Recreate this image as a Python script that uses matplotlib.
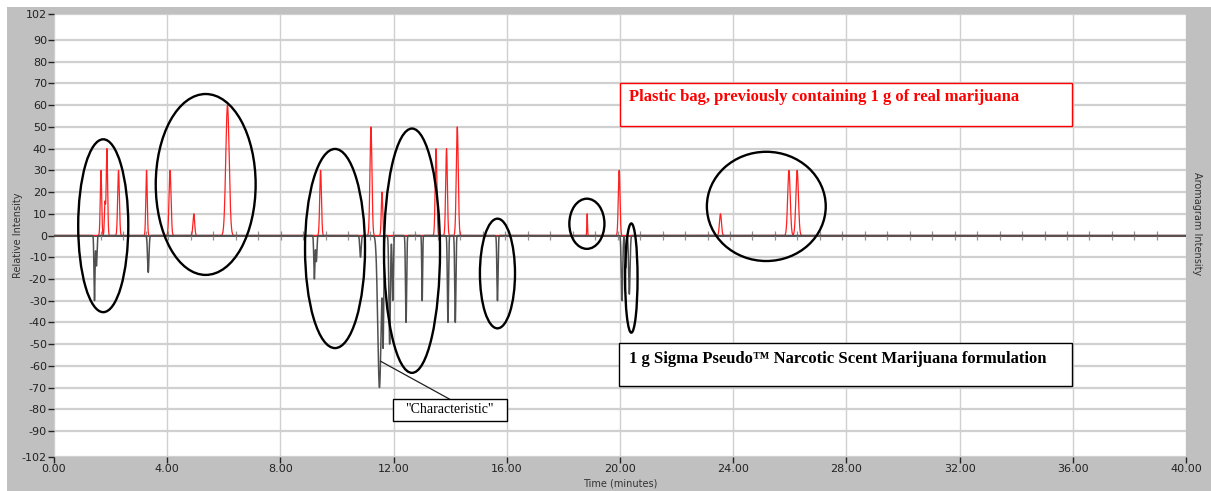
import numpy as np
import matplotlib.pyplot as plt
from matplotlib.patches import Ellipse, Rectangle

# Aromagram peaks: retention time (min), relative intensity, peak half-width (min)
bag_times = [1.66, 1.80, 1.87, 2.28, 3.27, 4.10, 4.94, 6.13, 9.42, 11.20, 11.59,
             13.50, 13.87, 14.25, 18.84, 19.97, 23.55, 25.97, 26.26]
bag_heights = [30, 15, 40, 30, 30, 30, 10, 60, 30, 50, 20,
               40, 40, 50, 10, 30, 10, 30, 30]
bag_widths = [0.025, 0.02, 0.025, 0.03, 0.025, 0.035, 0.03, 0.06, 0.03, 0.035, 0.025,
              0.03, 0.03, 0.035, 0.012, 0.03, 0.035, 0.045, 0.045]

pseudo_times = [1.43, 1.50, 3.33, 9.20, 9.27, 10.83, 11.50, 11.63, 11.86, 11.97,
                12.44, 13.01, 13.92, 14.18, 15.67, 20.07, 20.20, 20.33]
pseudo_heights = [-30, -14, -17, -20, -12, -10, -70, -45, -50, -30,
                  -40, -30, -40, -40, -30, -30, -15, -27]
pseudo_widths = [0.018, 0.02, 0.025, 0.02, 0.02, 0.025, 0.06, 0.02, 0.025, 0.02,
                 0.02, 0.015, 0.02, 0.02, 0.02, 0.025, 0.02, 0.025]

yticks = [-102, -90, -80, -70, -60, -50, -40, -30, -20, -10, 0,
          10, 20, 30, 40, 50, 60, 70, 80, 90, 102]
xticks = [0, 4, 8, 12, 16, 20, 24, 28, 32, 36, 40]

# circled regions: centre time, centre intensity, width (min), height
circles = [(1.74, 4.5, 1.77, 79.6), (5.36, 23.5, 3.53, 83.3), (9.93, -6.0, 2.12, 91.7),
           (12.65, -7.0, 1.98, 112.5), (15.67, -17.5, 1.24, 50.5), (18.83, 5.4, 1.24, 23.1),
           (20.40, -19.6, 0.44, 50.3), (25.17, 13.4, 4.2, 50.3)]


def trace(times, heights, widths, t):
    y = np.zeros_like(t)
    for c, h, w in zip(times, heights, widths):
        y += h * np.exp(-0.5 * ((t - c) / w) ** 2)
    return y


t = np.linspace(0, 40, 40001)
bag = trace(bag_times, bag_heights, bag_widths, t)
pseudo = trace(pseudo_times, pseudo_heights, pseudo_widths, t)

fig = plt.figure(figsize=(12.11, 4.91), dpi=100, facecolor='white')
fig.patches.append(Rectangle((7 / 1211, 0), 1, 1 - 7 / 491, transform=fig.transFigure,
                             facecolor='#c0c0c0', edgecolor='none', zorder=-10))
ax = fig.add_axes([54 / 1211, 34 / 491, 1132 / 1211, 443 / 491])
ax.set_facecolor('white')
ax.set_xlim(0, 40)
ax.set_ylim(-102, 102)

for yv in yticks:
    ax.axhline(yv, color='#d0d0d0', lw=1.6, zorder=1)
for xv in xticks:
    ax.axvline(xv, color='#d0d0d0', lw=1.0, zorder=1)

ax.axhline(0, color='#555555', lw=1.4, zorder=3)
marks = np.arange(0.86, 39.5, 0.794)
ax.vlines(marks, -2, 2, color='#909090', lw=0.9, zorder=3)

ax.plot(t, bag, color='#ff2020', lw=0.9, zorder=4)
ax.plot(t, pseudo, color='#505050', lw=1.1, zorder=4)

for cx, cy, w, h in circles:
    ax.add_patch(Ellipse((cx, cy), w, h, fill=False, edgecolor='black', lw=1.7, zorder=6))

# legend boxes
ax.add_patch(Rectangle((20.0, 50.5), 15.96, 19.7, facecolor='white', edgecolor='#ff0000',
                       lw=1.0, zorder=5))
ax.text(20.33, 63.6, 'Plastic bag, previously containing 1 g of real marijuana',
        color='#ff0000', fontsize=12, fontweight='bold', family='Liberation Serif',
        va='center', ha='left', zorder=6)
ax.add_patch(Rectangle((19.97, -69.1), 15.99, 19.6, facecolor='white', edgecolor='black',
                       lw=1.0, zorder=5))
ax.text(20.33, -56.8, '1 g Sigma Pseudo\u2122 Narcotic Scent Marijuana formulation',
        color='black', fontsize=12, fontweight='bold', family='Liberation Serif',
        va='center', ha='left', zorder=6)

ax.plot([11.54, 13.97], [-57.9, -75.3], color='#202020', lw=0.9, zorder=5)
ax.add_patch(Rectangle((11.97, -85.3), 4.03, 10.0, facecolor='white', edgecolor='black',
                       lw=1.0, zorder=5))
ax.text(13.98, -80.3, '"Characteristic"', fontsize=10, family='Liberation Serif',
        ha='center', va='center', zorder=6)

ax.set_yticks(yticks)
ax.set_yticklabels([str(v) for v in yticks])
ax.set_xticks(xticks)
ax.set_xticklabels(['%.2f' % v for v in xticks])
ax.tick_params(axis='both', labelsize=8, colors='#222222', length=4, width=1, pad=1)
for s in ax.spines.values():
    s.set_visible(False)

fig.text(18 / 1211, 1 - 235 / 491, 'Relative Intensity', rotation=90, fontsize=7,
         color='#333333', ha='center', va='center')
fig.text(1197 / 1211, 1 - 224 / 491, 'Aromagram Intensity', rotation=-90, fontsize=7,
         color='#333333', ha='center', va='center')
fig.text(620 / 1211, 1 - 484 / 491, 'Time (minutes)', fontsize=7,
         color='#333333', ha='center', va='center')

fig.savefig('out.png', dpi=100, facecolor=fig.get_facecolor())
